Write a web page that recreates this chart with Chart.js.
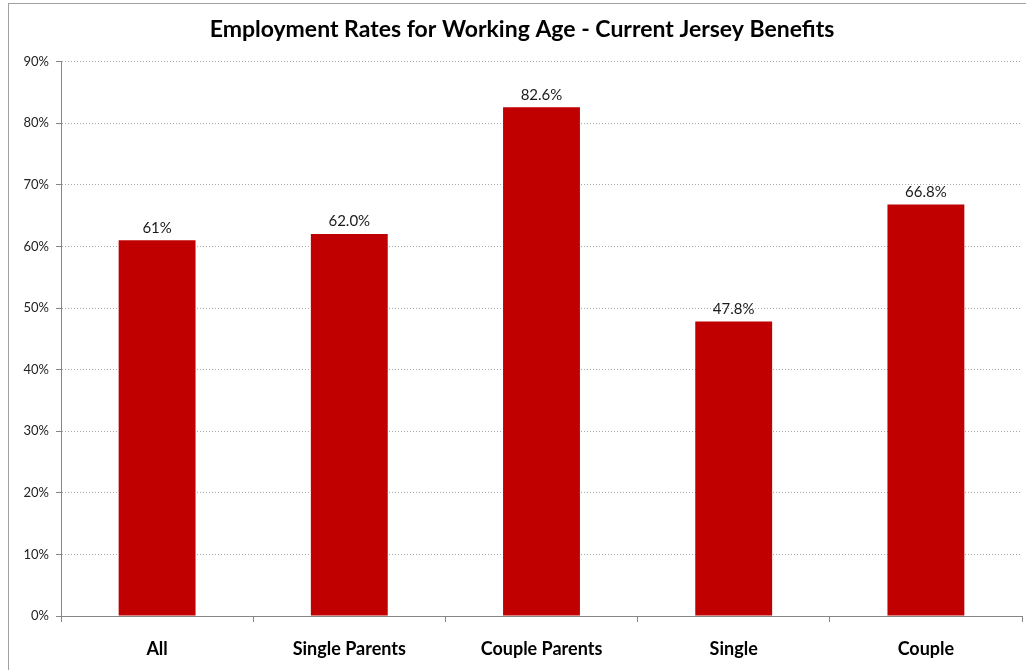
<!DOCTYPE html>
<html lang="en">
<head>
    <meta charset="UTF-8">
    <title>Employment Rates for Working Age</title>
    <script src="https://cdn.jsdelivr.net/npm/chart.js"></script>
    <style>
        body { margin: 0; background: #fff; overflow: hidden; }
        #frame {
            position: absolute; left: 8px; top: 3px;
            width: 1100px; height: 700px;
            border-left: 1px solid #a0a0a0; border-top: 1px solid #a0a0a0;
        }
        #wrap { position: absolute; left: 0; top: 0; width: 1026px; height: 670px; }
    </style>
</head>
<body>
    <div id="frame"></div>
    <div id="wrap">
        <canvas id="rateChart" width="1026" height="670"></canvas>
    </div>

    <script>
        const categories = ['All', 'Single Parents', 'Couple Parents', 'Single', 'Couple'];
        const rates = [61, 62.0, 82.6, 47.8, 66.8];
        const rateLabels = ['61%', '62.0%', '82.6%', '47.8%', '66.8%'];
        const yTicks = [0, 10, 20, 30, 40, 50, 60, 70, 80, 90];

        // Draw the value above each bar
        const barLabels = {
            id: 'barLabels',
            afterDatasetsDraw(chart) {
                const ctx = chart.ctx;
                const meta = chart.getDatasetMeta(0);
                ctx.save();
                ctx.font = '15px Lato';
                ctx.fillStyle = '#1a1a1a';
                ctx.textAlign = 'center';
                ctx.textBaseline = 'bottom';
                meta.data.forEach((bar, i) => {
                    ctx.fillText(rateLabels[i], bar.x, bar.y - 5);
                });
                ctx.restore();
            }
        };

        const ctx = document.getElementById('rateChart').getContext('2d');
        new Chart(ctx, {
            type: 'bar',
            data: {
                labels: categories,
                datasets: [{
                    data: rates,
                    backgroundColor: '#c00000',
                    borderWidth: 0,
                    barPercentage: 0.4,
                    categoryPercentage: 1.0
                }]
            },
            options: {
                responsive: false,
                animation: false,
                layout: { padding: { left: 22, right: 4, top: 0, bottom: 0 } },
                scales: {
                    x: {
                        afterFit: s => { s.height = 54; },
                        border: { color: '#868686', width: 1 },
                        grid: {
                            offset: true,
                            drawOnChartArea: false,
                            tickLength: 6,
                            color: '#868686'
                        },
                        ticks: {
                            padding: 16,
                            color: '#000',
                            font: { family: 'Lato', size: 18, weight: 'bold' }
                        }
                    },
                    y: {
                        min: 0,
                        max: 90,
                        afterFit: s => { s.width = 39; },
                        afterBuildTicks: s => { s.ticks = yTicks.map(v => ({ value: v })); },
                        border: { color: '#868686', width: 1, dash: [1, 2] },
                        grid: {
                            color: '#a8a8a8',
                            tickColor: '#868686',
                            tickBorderDash: [],
                            tickLength: 5
                        },
                        ticks: {
                            padding: 7,
                            color: '#222',
                            font: { family: 'Lato', size: 13 },
                            callback: v => v + '%'
                        }
                    }
                },
                plugins: {
                    legend: { display: false },
                    tooltip: { enabled: false },
                    title: {
                        display: true,
                        text: 'Employment Rates for Working Age - Current Jersey Benefits',
                        color: '#000',
                        font: { family: 'Lato', size: 23, weight: 'bold' },
                        padding: { top: 16, bottom: 18 }
                    }
                }
            },
            plugins: [barLabels]
        });
    </script>
</body>
</html>
